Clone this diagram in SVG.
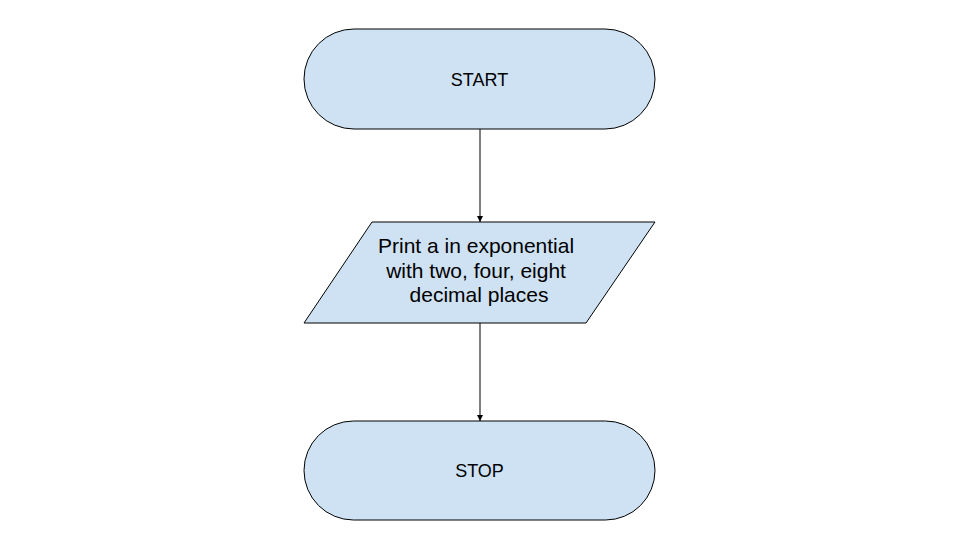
<svg xmlns="http://www.w3.org/2000/svg" width="972" height="558" viewBox="0 0 972 558">
<style>
.shape{fill:#cfe2f3;stroke:#000;stroke-width:1}
.lbl{font-family:"Liberation Sans",Arial,sans-serif;fill:#000;text-anchor:middle}
.conn{stroke:#000;stroke-width:1;fill:none}
</style>
<defs>
<marker id="arr" markerWidth="8" markerHeight="8" refX="6" refY="3" orient="auto" markerUnits="userSpaceOnUse">
<path d="M0,0 L6,3 L0,6 Z" fill="#000"/>
</marker>
</defs>
<rect width="972" height="558" fill="#fff"/>
<g id="connectors">
<line class="conn" x1="480" y1="129" x2="480" y2="222" marker-end="url(#arr)"/>
<line class="conn" x1="480" y1="323" x2="480" y2="421" marker-end="url(#arr)"/>
</g>
<g id="start">
<rect class="shape" x="304" y="29" width="351" height="100" rx="50" ry="50"/>
<text class="lbl" x="479.5" y="85.5" font-size="18">START</text>
</g>
<g id="print">
<polygon class="shape" points="372,222 655,222 586,323 304,323"/>
<text class="lbl" font-size="21">
<tspan x="479" y="253">Print a in exponential</tspan>
<tspan x="479" y="277.5">with two, four, eight</tspan>
<tspan x="479" y="302">decimal places</tspan>
</text>
</g>
<g id="stop">
<rect class="shape" x="304" y="421" width="351" height="99" rx="49.5" ry="49.5"/>
<text class="lbl" x="479.5" y="476.5" font-size="18">STOP</text>
</g>
</svg>
